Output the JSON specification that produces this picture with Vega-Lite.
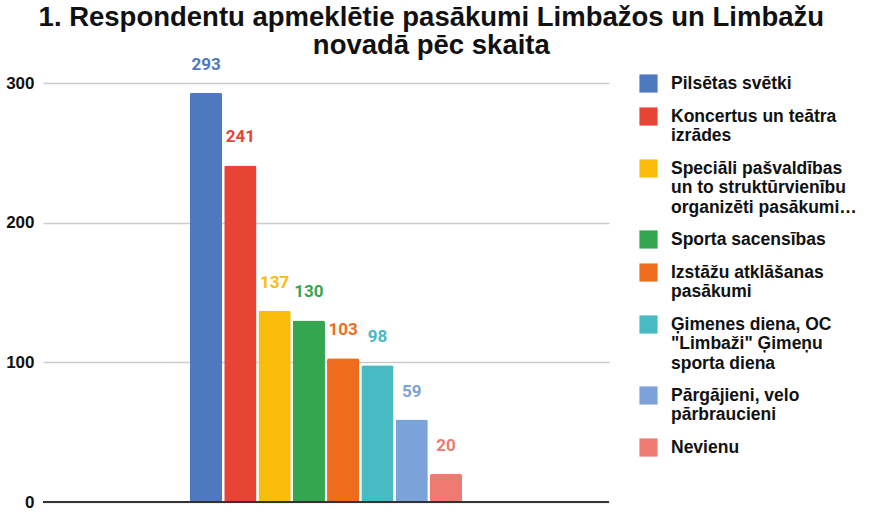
{
  "$schema": "https://vega.github.io/schema/vega-lite/v6.json",
  "width": 566,
  "height": 419,
  "padding": {"left": 5, "top": 4, "right": 0, "bottom": 0},
  "autosize": {"type": "pad"},
  "background": "white",
  "title": {
    "text": ["1. Respondentu apmeklētie pasākumi Limbažos un Limbažu", "novadā pēc skaita"],
    "font": "Liberation Sans, sans-serif",
    "fontSize": 27.5,
    "fontWeight": "bold",
    "color": "#111111",
    "lineHeight": 28,
    "anchor": "middle",
    "frame": "bounds",
    "offset": -4
  },
  "data": {
    "values": [
      {"question": "1", "event": "Pilsētas svētki", "count": 293},
      {"question": "1", "event": "Koncertus un teātra\nizrādes", "count": 241},
      {"question": "1", "event": "Speciāli pašvaldības\nun to struktūrvienību\norganizēti pasākumi…", "count": 137},
      {"question": "1", "event": "Sporta sacensības", "count": 130},
      {"question": "1", "event": "Izstāžu atklāšanas\npasākumi", "count": 103},
      {"question": "1", "event": "Ģimenes diena, OC\n\"Limbaži\" Ģimeņu\nsporta diena", "count": 98},
      {"question": "1", "event": "Pārgājieni, velo\npārbraucieni", "count": 59},
      {"question": "1", "event": "Nevienu", "count": 20}
    ]
  },
  "config": {
    "view": {"stroke": null},
    "font": "Liberation Sans, sans-serif"
  },
  "encoding": {
    "x": {
      "field": "question",
      "type": "nominal",
      "axis": null,
      "scale": {"paddingInner": 0, "paddingOuter": 0.54}
    },
    "xOffset": {
      "field": "event",
      "type": "nominal",
      "sort": null,
      "scale": {"paddingInner": 0.06, "paddingOuter": 0}
    },
    "y": {
      "field": "count",
      "type": "quantitative",
      "scale": {"domain": [0, 300], "nice": false},
      "axis": {
        "title": null,
        "values": [0, 100, 200, 300],
        "labelFont": "Liberation Sans, sans-serif",
        "labelFontSize": 17,
        "labelFontWeight": "bold",
        "labelColor": "#111111",
        "labelPadding": 9,
        "domain": false,
        "ticks": false,
        "gridColor": "#cccccc",
        "gridWidth": 1.5
      }
    },
    "color": {
      "field": "event",
      "type": "nominal",
      "sort": null,
      "scale": {
        "range": ["#4e79c1", "#e84436", "#f9bc0a", "#33a64f", "#ee6d1d", "#48bac4", "#7ba3d9", "#ee7a72"]
      },
      "legend": {
        "title": null,
        "orient": "none",
        "legendX": 596,
        "legendY": -9,
        "symbolType": "square",
        "symbolSize": 330,
        "symbolStrokeWidth": 0,
        "labelFont": "Liberation Sans, sans-serif",
        "labelFontSize": 17.5,
        "labelFontWeight": "bold",
        "labelColor": "#111111",
        "labelLimit": 300,
        "labelOffset": 13,
        "labelExpr": "split(datum.label, '\\n')",
        "rowPadding": 14,
        "padding": 0
      }
    }
  },
  "layer": [
    {
      "mark": {"type": "bar", "cornerRadiusTopLeft": 2, "cornerRadiusTopRight": 2}
    },
    {
      "mark": {"type": "text", "baseline": "middle", "dy": -28, "font": "Roboto", "fontSize": 17, "fontWeight": "bold"},
      "encoding": {"text": {"field": "count", "type": "quantitative"}}
    },
    {
      "mark": {"type": "rule", "color": "#333333", "strokeWidth": 2},
      "encoding": {"y": {"datum": 0}, "x": null, "xOffset": null, "color": null}
    }
  ]
}
